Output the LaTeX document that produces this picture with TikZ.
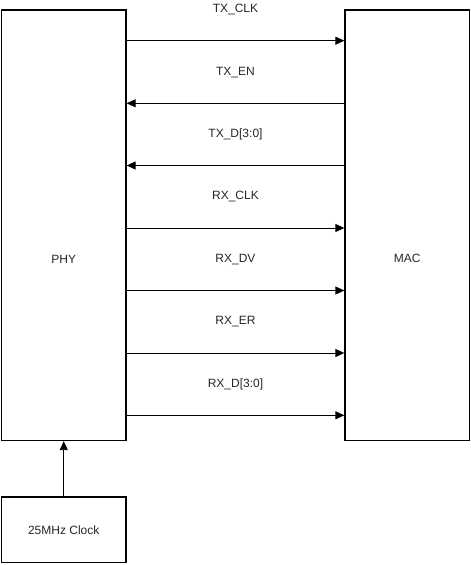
\documentclass[tikz,border=0pt]{standalone}
\usepackage{fontspec}
\setmainfont{Liberation Sans}
\usetikzlibrary{arrows.meta}

\tikzset{
  block/.style={draw, line width=1.3pt, inner sep=0pt, minimum width=124.5pt},
  sig/.style={line width=0.9pt},
  >={Triangle[length=9pt,width=8pt]},
  every node/.style={font=\fontsize{12}{14}\selectfont, text=black!85},
}

\begin{document}
\begin{tikzpicture}[x=1pt,y=-1pt]

    % Fix the page to the size of the reference
    \useasboundingbox (0,0) rectangle (471,565);

    % The two blocks and the clock source
    \node[block, minimum height=430.5pt] (phy) at (63.75,225.25) {};
    \node[block, minimum height=430.5pt] (mac) at (407.25,225.25) {};
    \node[block, minimum height=65.5pt] (clk) at (63.75,529.75) {25MHz Clock};

    % Block names sit a little below the middle
    \node at (63.75,259) {PHY};
    \node at (407.25,258.5) {MAC};

    % Signals between PHY and MAC, with their names above
    \foreach \y/\txt/\tip in {40.7/TX\_CLK/->, 103.3/TX\_EN/<-, 165.5/TX\_D[3:0]/<-,
                              228/RX\_CLK/->, 290.5/RX\_DV/->, 353/RX\_ER/->,
                              415.3/RX\_D[3:0]/->} {
        \draw[sig, \tip] (phy.east |- 0,\y) -- (mac.west |- 0,\y);
        \node at (235.5,\y-31) {\txt};
    }

    % Clock into the PHY
    \draw[sig, ->] (clk.north) -- (phy.south);

\end{tikzpicture}
\end{document}
